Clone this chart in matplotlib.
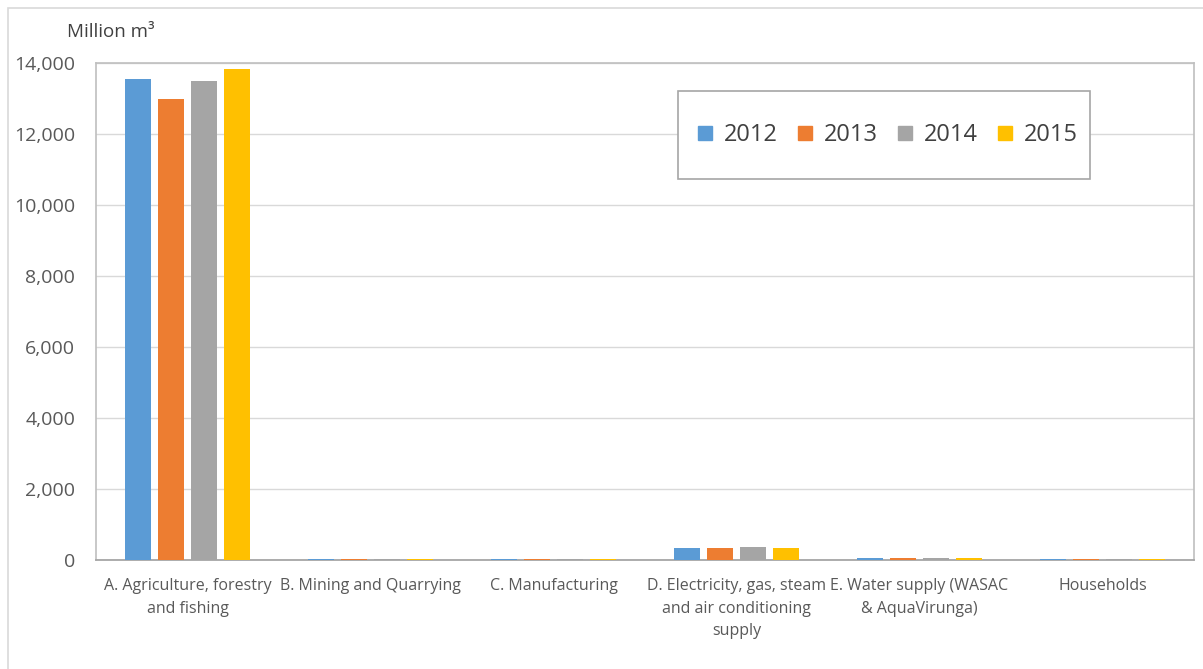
import numpy as np
import matplotlib
matplotlib.use("Agg")
import matplotlib.pyplot as plt
from matplotlib.patches import Rectangle
from matplotlib.lines import Line2D

plt.rcParams['font.family'] = ['Open Sans', 'DejaVu Sans']

categories = [
    "A. Agriculture, forestry\nand fishing",
    "B. Mining and Quarrying",
    "C. Manufacturing",
    "D. Electricity, gas, steam\nand air conditioning\nsupply",
    "E. Water supply (WASAC\n& AquaVirunga)",
    "Households",
]
years = ["2012", "2013", "2014", "2015"]
values_2012 = [13540, 25, 25, 330, 45, 20]
values_2013 = [12990, 25, 25, 330, 45, 20]
values_2014 = [13480, 25, 25, 355, 45, 20]
values_2015 = [13820, 25, 25, 335, 45, 20]
series = [values_2012, values_2013, values_2014, values_2015]
colors = ["#5B9BD5", "#ED7D31", "#A5A5A5", "#FFC000"]
yticks = [0, 2000, 4000, 6000, 8000, 10000, 12000, 14000]

W, H = 1203, 669
fig = plt.figure(figsize=(W / 100, H / 100), dpi=100)
fig.patch.set_facecolor("white")

# outer chart frame
fig.patches.append(Rectangle((8 / W, -0.05), 1.1, 1 - 8 / H + 0.05,
                             transform=fig.transFigure, fill=False,
                             edgecolor="#D9D9D9", linewidth=1.2))

ax_l, ax_r, ax_t, ax_b = 96, 1194, 63, 560
ax_w, ax_h = ax_r - ax_l, ax_b - ax_t
ax = fig.add_axes([ax_l / W, (H - ax_b) / H, ax_w / W, ax_h / H])

x = np.arange(len(categories))
step = 0.18
width = 0.142
for i, (vals, c, yr) in enumerate(zip(series, colors, years)):
    ax.bar(x + (i - 1.5) * step, vals, width=width, color=c, label=yr,
           zorder=3)

ax.set_xlim(-0.5, len(categories) - 0.5)
ax.set_ylim(0, 14000)
ax.set_yticks(yticks)
ax.set_yticklabels([f"{v:,}" for v in yticks], fontsize=14, color="#595959")
ax.set_xticks(x)
ax.set_xticklabels(categories, fontsize=11.5, color="#595959",
                   linespacing=1.55)
ax.tick_params(axis="both", length=0)
ax.tick_params(axis="y", pad=15)
ax.tick_params(axis="x", pad=13)
ax.grid(axis="y", color="#D9D9D9", linewidth=1, zorder=0)
for side in ["top", "right", "left"]:
    ax.spines[side].set_color("#BFBFBF")
    ax.spines[side].set_linewidth(1.2)
ax.spines["bottom"].set_color("#A6A6A6")
ax.spines["bottom"].set_linewidth(1.3)

fig.text(67 / W, 1 - 32 / H, "Million m³", fontsize=13.5, color="#404040",
         va="center", ha="left")

# legend box (drawn separately so its padding can be set per side)
box_l, box_r, box_t, box_b = 678, 1090, 91, 179
ax.add_patch(Rectangle(((box_l - ax_l) / ax_w, (ax_b - box_b) / ax_h),
                       (box_r - box_l) / ax_w, (box_b - box_t) / ax_h,
                       transform=ax.transAxes, facecolor="white",
                       edgecolor="#A6A6A6", linewidth=1.2, zorder=5))

handles = [Line2D([], [], linestyle="none", marker="s", markersize=9.5,
                  markerfacecolor=c, markeredgecolor=c) for c in colors]
leg = ax.legend(handles, years, loc="center",
                bbox_to_anchor=((888 - ax_l) / ax_w, (ax_b - 135) / ax_h),
                ncol=4, fontsize=17, frameon=False,
                handlelength=0.6, handleheight=0.7,
                handletextpad=0.5, columnspacing=0.85, borderpad=0,
                borderaxespad=0)
leg.set_zorder(6)
for t in leg.get_texts():
    t.set_color("#404040")

fig.savefig("out.png", dpi=100, facecolor="white")
